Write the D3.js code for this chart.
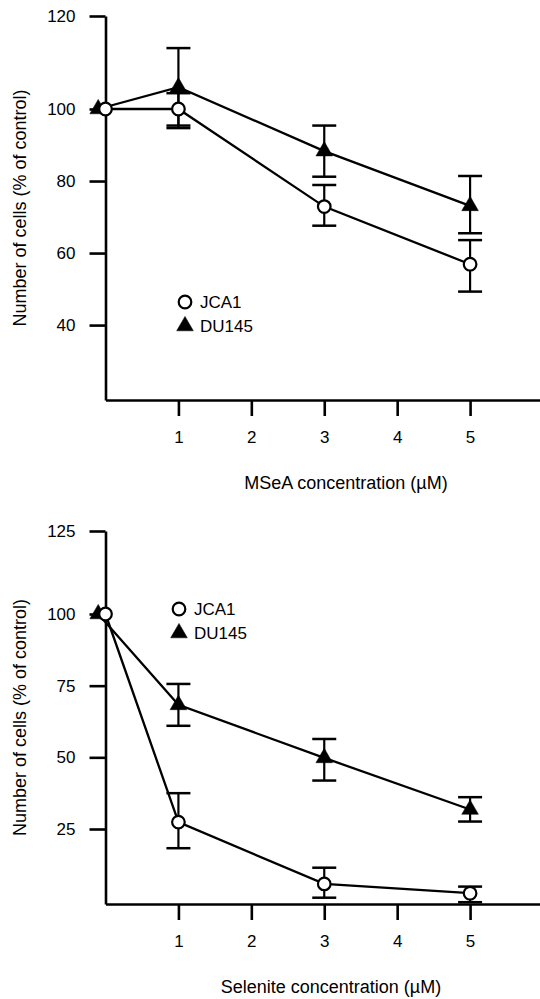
<!DOCTYPE html>
<html>
<head>
<meta charset="utf-8">
<script src="https://cdn.jsdelivr.net/npm/d3@7"></script>
<style>
  body { margin: 0; background: #fff; }
  text { font-family: "Liberation Sans", Arial, Helvetica, sans-serif; fill: #000; }
</style>
</head>
<body>
<div id="chart"></div>
<script>
// concentrations (uM)
const conc = [0, 1, 3, 5];
const du145Conc = [-0.1, 1, 3, 5]; // control point is nudged left in the original figure
const xTicks = [1, 2, 3, 4, 5];

// MSeA panel
const mseaJca1 = [100, 100, 72.9, 56.9];
const mseaJca1Hi = [null, 103.4, 78.9, 63.6];
const mseaJca1Lo = [null, 95.4, 67.6, 49.3];
const mseaDu145 = [100, 104.7, 88.3, 73.1];
const mseaDu145Hi = [null, 113.1, 95.4, 81.4];
const mseaDu145Lo = [null, 94.7, 81.2, 65.5];
const mseaTicks = [40, 60, 80, 100, 120];

// Selenite panel
const selJca1 = [100, 27.4, 6.7, 3.6];
const selJca1Hi = [null, 37.5, 12.1, 5.8];
const selJca1Lo = [null, 18.6, 2.1, 0.6];
const selDu145 = [100, 68.3, 49.8, 31.8];
const selDu145Hi = [null, 75.6, 56.4, 36.1];
const selDu145Lo = [null, 61.0, 41.9, 27.6];
const selTicks = [25, 50, 75, 100, 125];

const yTitle = "Number of cells (% of control)";

const svg = d3.select("#chart")
    .append("svg")
    .attr("width", 540)
    .attr("height", 999);

const x = d3.scaleLinear().domain([0, 6]).range([105.5, 543]);

function series(xs, ys, hi, lo) {
    return xs.map((c, i) => ({ x: c, y: ys[i], hi: hi[i], lo: lo[i] }));
}

function drawPanel(p) {
    const g = svg.append("g");
    const y = p.y;
    const axisY = y.range()[0];

    // axes
    const xAxis = g.append("g")
        .attr("transform", `translate(0,${axisY})`)
        .call(d3.axisBottom(x).tickValues(xTicks).tickFormat(d3.format("d"))
            .tickSize(16).tickSizeOuter(0).tickPadding(15));
    const yAxis = g.append("g")
        .attr("transform", `translate(${x(0)},0)`)
        .call(d3.axisLeft(y).tickValues(p.ticks).tickFormat(d3.format("d"))
            .tickSize(16).tickSizeOuter(0).tickPadding(14));
    [xAxis, yAxis].forEach(a => {
        a.select(".domain").attr("stroke", "#000").attr("stroke-width", 2.6);
        a.selectAll(".tick line").attr("stroke", "#000").attr("stroke-width", 2.6);
        a.selectAll(".tick text").style("font-size", "17px").attr("fill", "#000");
    });

    const line = d3.line().x(d => x(d.x)).y(d => y(d.y));

    p.data.forEach(s => {
        g.append("path")
            .attr("d", line(s.points))
            .attr("fill", "none")
            .attr("stroke", "#000")
            .attr("stroke-width", 2.3);

        const eb = s.points.filter(d => d.hi != null);
        g.selectAll(null).data(eb).enter().append("line")
            .attr("x1", d => x(d.x)).attr("x2", d => x(d.x))
            .attr("y1", d => y(d.hi)).attr("y2", d => y(d.lo))
            .attr("stroke", "#000").attr("stroke-width", 2.2);
        ["hi", "lo"].forEach(k => {
            g.selectAll(null).data(eb).enter().append("line")
                .attr("x1", d => x(d.x) - 12).attr("x2", d => x(d.x) + 12)
                .attr("y1", d => y(d[k])).attr("y2", d => y(d[k]))
                .attr("stroke", "#000").attr("stroke-width", 2.5);
        });
    });

    // markers, triangles first so circles sit on top
    p.data.slice().reverse().forEach(s => {
        g.selectAll(null).data(s.points).enter().append("path")
            .attr("transform", d => `translate(${x(d.x)},${y(d.y)})`)
            .attr("d", markerPath(s.shape))
            .attr("fill", s.shape === "circle" ? "#fff" : "#000")
            .attr("stroke", "#000")
            .attr("stroke-width", s.shape === "circle" ? 2.2 : 0.5);
    });

    // legend
    const lg = g.append("g").attr("transform", `translate(${p.legend[0]},${p.legend[1]})`);
    p.data.forEach((s, i) => {
        lg.append("path")
            .attr("transform", `translate(0,${i * 24})`)
            .attr("d", markerPath(s.shape))
            .attr("fill", s.shape === "circle" ? "#fff" : "#000")
            .attr("stroke", "#000")
            .attr("stroke-width", s.shape === "circle" ? 2.2 : 0.5);
        lg.append("text")
            .attr("x", 15)
            .attr("y", i * 24)
            .attr("dy", "0.36em")
            .style("font-size", "17px")
            .text(s.name);
    });

    // titles
    g.append("text")
        .attr("x", p.xTitleX)
        .attr("y", axisY + 89)
        .attr("text-anchor", "middle")
        .style("font-size", "18px")
        .text(p.xTitle);
    g.append("text")
        .attr("transform", `translate(26,${(y.range()[0] + y.range()[y.range().length - 1]) / 2}) rotate(-90)`)
        .attr("text-anchor", "middle")
        .style("font-size", "18px")
        .text(yTitle);
}

function markerPath(shape) {
    if (shape === "circle") return d3.symbol(d3.symbolCircle, Math.PI * 6.3 * 6.3)();
    return d3.symbol(d3.symbolTriangle, 120)();
}

drawPanel({
    y: d3.scaleLinear().domain([19.2, 100, 120]).range([400, 109, 16]),
    ticks: mseaTicks,
    xTitle: "MSeA concentration (\u00b5M)",
    xTitleX: 346,
    legend: [185, 302],
    data: [
        { name: "JCA1", shape: "circle", points: series(conc, mseaJca1, mseaJca1Hi, mseaJca1Lo) },
        { name: "DU145", shape: "triangle", points: series(du145Conc, mseaDu145, mseaDu145Hi, mseaDu145Lo) }
    ]
});

drawPanel({
    y: d3.scaleLinear().domain([0, 25, 100, 125]).range([904, 829, 614, 531]),
    ticks: selTicks,
    xTitle: "Selenite concentration (\u00b5M)",
    xTitleX: 331,
    legend: [179, 609],
    data: [
        { name: "JCA1", shape: "circle", points: series(conc, selJca1, selJca1Hi, selJca1Lo) },
        { name: "DU145", shape: "triangle", points: series(du145Conc, selDu145, selDu145Hi, selDu145Lo) }
    ]
});
</script>
</body>
</html>
